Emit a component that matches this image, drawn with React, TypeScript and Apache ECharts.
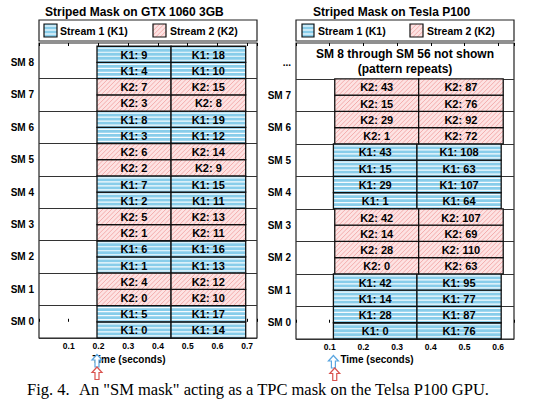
import React, { useEffect, useRef } from 'react';
import * as echarts from 'echarts';

// ---------------- data ----------------
// GTX 1060 3GB (SM 0 .. SM 8)
const gtxSM = [0, 1, 2, 3, 4, 5, 6, 7, 8];
const gtxStream = [1, 2, 1, 2, 1, 2, 1, 2, 1];
const gtxFirstLow = [0, 0, 1, 1, 2, 2, 3, 3, 4];
const gtxFirstHigh = [5, 4, 6, 5, 7, 6, 8, 7, 9];
const gtxSecondLow = [14, 10, 13, 11, 11, 9, 12, 8, 10];
const gtxSecondHigh = [17, 12, 16, 13, 15, 14, 19, 15, 18];
const gtxK1Times = [0.195, 0.444, 0.695];
const gtxK2Times = [0.195, 0.444, 0.695];

// Tesla P100 (SM 0 .. SM 7 shown)
const p100SM = [0, 1, 2, 3, 4, 5, 6, 7];
const p100Stream = [1, 1, 2, 2, 1, 1, 2, 2];
const p100FirstLow = [0, 14, 0, 14, 1, 15, 1, 15];
const p100FirstHigh = [28, 42, 28, 42, 29, 43, 29, 43];
const p100SecondLow = [76, 77, 63, 69, 64, 63, 72, 76];
const p100SecondHigh = [87, 95, 110, 107, 107, 108, 92, 87];
const p100K1Times = [0.111, 0.359, 0.609];
const p100K2Times = [0.115, 0.364, 0.615];

const gtxXMax = 0.733;
const p100XMax = 0.647;
const yMin = -0.5;
const yMax = 8.6;

// ---------------- styling ----------------
const BLUE = '#88cdea';
const PINK = '#fde3e3';
const PINK_STRIPE = '#f4adad';
const SANS = '"Liberation Sans", Arial, Helvetica, sans-serif';
const SERIF = '"Liberation Serif", "Times New Roman", serif';

function hStripes(x: number, y: number, w: number, h: number) {
  const out: any[] = [];
  const gap = 4;
  for (let yy = y + 2; yy < y + h - 0.5; yy += gap) {
    out.push({
      type: 'line',
      shape: { x1: x, y1: yy, x2: x + w, y2: yy },
      style: { stroke: 'rgba(255,255,255,0.92)', lineWidth: 1.2 },
      silent: true,
    });
  }
  return out;
}

function dStripes(x: number, y: number, w: number, h: number) {
  const out: any[] = [];
  const step = 4.5;
  for (let c = -h + step / 2; c < w; c += step) {
    const v0 = Math.max(0, -c);
    const v1 = Math.min(h, w - c);
    if (v1 <= v0) continue;
    out.push({
      type: 'line',
      shape: { x1: x + v0 + c, y1: y + h - v0, x2: x + v1 + c, y2: y + h - v1 },
      style: { stroke: PINK_STRIPE, lineWidth: 1 },
      silent: true,
    });
  }
  return out;
}

function swatch(x: number, y: number, w: number, h: number, stream: number) {
  return {
    type: 'group',
    children: [
      { type: 'rect', shape: { x, y, width: w, height: h }, style: { fill: stream === 1 ? BLUE : PINK } },
      ...(stream === 1 ? hStripes(x, y, w, h) : dStripes(x, y, w, h)),
      { type: 'rect', shape: { x, y, width: w, height: h }, style: { fill: 'none', stroke: '#111', lineWidth: 1.2 } },
    ],
  };
}

function txt(text: string, x: number, y: number, font: string, align = 'left') {
  return {
    type: 'text',
    x: 0,
    y: 0,
    style: {
      text,
      x,
      y,
      font,
      fill: '#000',
      align,
      textAlign: align,
      verticalAlign: 'middle',
      textVerticalAlign: 'middle',
    },
  };
}

// ---------------- build blocks ----------------
type Block = { vals: number[]; label: string };
function buildBlocks(
  sms: number[], streams: number[], fl: number[], fh: number[], sl: number[], sh: number[],
  k1: number[], k2: number[], which: number
): Block[] {
  const out: Block[] = [];
  sms.forEach((sm, i) => {
    const s = streams[i];
    if (s !== which) return;
    const T = s === 1 ? k1 : k2;
    out.push({ vals: [T[0], T[1], sm - 0.5, sm], label: `K${s}: ${fl[i]}` });
    out.push({ vals: [T[0], T[1], sm, sm + 0.5], label: `K${s}: ${fh[i]}` });
    out.push({ vals: [T[1], T[2], sm - 0.5, sm], label: `K${s}: ${sl[i]}` });
    out.push({ vals: [T[1], T[2], sm, sm + 0.5], label: `K${s}: ${sh[i]}` });
  });
  return out;
}

function blockSeries(name: string, blocks: Block[], stream: number, xIdx: number, yIdx: number) {
  return {
    type: 'custom',
    name,
    xAxisIndex: xIdx,
    yAxisIndex: yIdx,
    silent: true,
    encode: { x: [0, 1], y: [2, 3] },
    data: blocks.map((b) => b.vals),
    renderItem: (params: any, api: any) => {
      const a = api.coord([api.value(0), api.value(3)]);
      const b = api.coord([api.value(1), api.value(2)]);
      const x = a[0];
      const y = a[1];
      const w = b[0] - a[0];
      const h = b[1] - a[1];
      return {
        type: 'group',
        children: [
          { type: 'rect', shape: { x, y, width: w, height: h }, style: { fill: stream === 1 ? BLUE : PINK } },
          ...(stream === 1 ? hStripes(x, y, w, h) : dStripes(x, y, w, h)),
          { type: 'rect', shape: { x, y, width: w, height: h }, style: { fill: 'none', stroke: '#111', lineWidth: 1.3 } },
          {
            type: 'text',
            style: {
              text: blocks[params.dataIndex].label,
              x: x + w / 2,
              y: y + h / 2 + 0.5,
              font: `bold 11px ${SANS}`,
              fill: '#000',
              align: 'center',
              textAlign: 'center',
              verticalAlign: 'middle',
              textVerticalAlign: 'middle',
            },
          },
        ],
      };
    },
  };
}

function arrowSeries(k1: number[], k2: number[], xIdx: number, yIdx: number) {
  return {
    type: 'custom',
    xAxisIndex: xIdx,
    yAxisIndex: yIdx,
    silent: true,
    clip: false,
    encode: { x: 0, y: 1 },
    data: [[k1[0], 1], [k2[0], 2]],
    renderItem: (params: any, api: any) => {
      const p = api.coord([api.value(0), yMin]);
      const stream = api.value(1);
      const cx = p[0];
      const ty = p[1] + (stream === 1 ? 16.5 : 29);
      const H = 12.5;
      return {
        type: 'polygon',
        shape: {
          points: [
            [cx, ty], [cx + 5, ty + 5.5], [cx + 2, ty + 5.5], [cx + 2, ty + H],
            [cx - 2, ty + H], [cx - 2, ty + 5.5], [cx - 5, ty + 5.5],
          ],
        },
        style: { fill: '#fff', stroke: stream === 1 ? '#5aa6e0' : '#d9534f', lineWidth: 1.2 },
      };
    },
  };
}

const gtxK1 = buildBlocks(gtxSM, gtxStream, gtxFirstLow, gtxFirstHigh, gtxSecondLow, gtxSecondHigh, gtxK1Times, gtxK2Times, 1);
const gtxK2 = buildBlocks(gtxSM, gtxStream, gtxFirstLow, gtxFirstHigh, gtxSecondLow, gtxSecondHigh, gtxK1Times, gtxK2Times, 2);
const p100K1 = buildBlocks(p100SM, p100Stream, p100FirstLow, p100FirstHigh, p100SecondLow, p100SecondHigh, p100K1Times, p100K2Times, 1);
const p100K2 = buildBlocks(p100SM, p100Stream, p100FirstLow, p100FirstHigh, p100SecondLow, p100SecondHigh, p100K1Times, p100K2Times, 2);

const splitColors = Array.from({ length: 20 }, (_, i) => (i % 2 === 0 && i <= 16 ? '#333' : 'rgba(0,0,0,0)'));

const xTickFmt = (v: number) => {
  const r = Math.round(v * 10);
  return Math.abs(v * 10 - r) < 1e-6 && r > 0 ? (r / 10).toFixed(1) : '';
};

function xAxes(grid: number, max: number) {
  return [
    {
      gridIndex: grid, type: 'value', position: 'bottom', min: 0, max, interval: 0.1,
      axisLine: { show: false },
      axisTick: { show: true, inside: true, length: 3, lineStyle: { color: '#000', width: 1 } },
      axisLabel: { formatter: xTickFmt, fontSize: 8.5, fontWeight: 'bold', color: '#000', fontFamily: SANS, margin: 3 },
      splitLine: { show: false },
    },
    {
      gridIndex: grid, type: 'value', position: 'top', min: 0, max, interval: 0.1,
      axisLine: { show: false },
      axisTick: { show: true, inside: true, length: 3, lineStyle: { color: '#000', width: 1 } },
      axisLabel: { show: false },
      splitLine: { show: false },
    },
  ];
}

function yAxis(grid: number, topLabel: string) {
  return {
    gridIndex: grid, type: 'value', min: yMin, max: yMax, interval: 0.5,
    axisLine: { show: false },
    axisTick: { show: false },
    axisLabel: {
      formatter: (v: number) => {
        const r = Math.round(v);
        if (Math.abs(v - r) > 1e-6 || r < 0 || r > 8) return '';
        return r === 8 ? topLabel : `SM ${r}`;
      },
      fontSize: 10, fontWeight: 'bold', color: '#000', fontFamily: SANS, margin: 5,
    },
    splitLine: { show: true, lineStyle: { color: splitColors, width: 1.2 } },
  };
}

const option: any = {
  animation: false,
  backgroundColor: '#fff',
  title: [
    { text: 'Striped Mask on GTX 1060 3GB', left: 45, top: 6, padding: 0,
      textStyle: { fontSize: 12, fontWeight: 'bold', fontFamily: SANS, color: '#000' } },
    { text: 'Striped Mask on Tesla P100', left: 313, top: 6, padding: 0,
      textStyle: { fontSize: 12, fontWeight: 'bold', fontFamily: SANS, color: '#000' } },
  ],
  grid: [
    { left: 39, top: 43, width: 218, height: 295, show: true, borderColor: '#222', borderWidth: 1.2, backgroundColor: 'transparent' },
    { left: 296, top: 43, width: 218, height: 296, show: true, borderColor: '#222', borderWidth: 1.2, backgroundColor: 'transparent' },
  ],
  xAxis: [...xAxes(0, gtxXMax), ...xAxes(1, p100XMax)],
  yAxis: [yAxis(0, 'SM 8'), yAxis(1, '...')],
  series: [
    blockSeries('Stream 1 (K1)', gtxK1, 1, 0, 0),
    blockSeries('Stream 2 (K2)', gtxK2, 2, 0, 0),
    arrowSeries(gtxK1Times, gtxK2Times, 0, 0),
    blockSeries('Stream 1 (K1)', p100K1, 1, 2, 1),
    blockSeries('Stream 2 (K2)', p100K2, 2, 2, 1),
    arrowSeries(p100K1Times, p100K2Times, 2, 1),
  ],
  graphic: [
    // legends
    { type: 'rect', shape: { x: 39, y: 20, width: 218, height: 21 }, style: { fill: '#fff', stroke: '#222', lineWidth: 1.2 } },
    swatch(44, 24, 13, 13, 1),
    txt('Stream 1 (K1)', 60, 31, `bold 10.5px ${SANS}`),
    swatch(153, 24, 13, 13, 2),
    txt('Stream 2 (K2)', 170, 31, `bold 10.5px ${SANS}`),
    { type: 'rect', shape: { x: 296, y: 20, width: 218, height: 21 }, style: { fill: '#fff', stroke: '#222', lineWidth: 1.2 } },
    swatch(302, 24, 12, 13, 1),
    txt('Stream 1 (K1)', 318, 31, `bold 10.5px ${SANS}`),
    swatch(410, 24, 13, 13, 2),
    txt('Stream 2 (K2)', 427, 31, `bold 10.5px ${SANS}`),
    // note in P100 chart
    txt('SM 8 through SM 56 not shown', 405, 53.5, `bold 12px ${SANS}`, 'center'),
    txt('(pattern repeats)', 405, 68.5, `bold 12px ${SANS}`, 'center'),
    // axis names
    txt('Time (seconds)', 129, 359, `bold 10px ${SANS}`, 'center'),
    txt('Time (seconds)', 377, 359, `bold 10px ${SANS}`, 'center'),
    // caption
    txt('Fig. 4.', 27, 389, `16.5px ${SERIF}`),
    txt('An "SM mask" acting as a TPC mask on the Telsa P100 GPU.', 79, 389, `16.5px ${SERIF}`),
  ],
};

export default function App() {
  const ref = useRef<HTMLDivElement>(null);
  useEffect(() => {
    const chart = echarts.init(ref.current as HTMLDivElement, null, { renderer: 'svg' });
    chart.setOption(option);
    return () => chart.dispose();
  }, []);
  return (
    <div
      ref={ref}
      style={{ position: 'absolute', left: 0, top: 0, width: 542, height: 406, background: '#fff' }}
    />
  );
}
